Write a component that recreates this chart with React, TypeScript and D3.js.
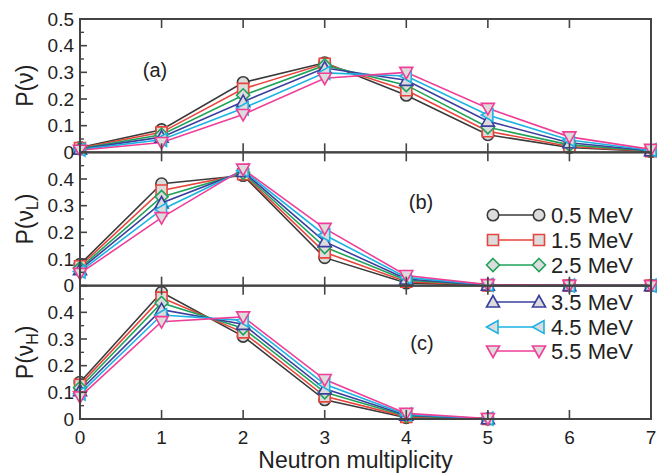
import React from "react";
import * as d3 from "d3";

const multiplicity = [0, 1, 2, 3, 4, 5, 6, 7];
const energies = ["0.5 MeV", "1.5 MeV", "2.5 MeV", "3.5 MeV", "4.5 MeV", "5.5 MeV"];
const colors = ["#3a3a3a", "#e8453c", "#1fa35a", "#3a3f9e", "#1cb3e3", "#ef3e96"];
const markerKinds = ["circle", "square", "diamond", "triUp", "triLeft", "triDown"];

// Panel (a): P(nu)
const pNu05 = [0.018, 0.085, 0.262, 0.336, 0.214, 0.066, 0.018, 0.003];
const pNu15 = [0.016, 0.075, 0.238, 0.332, 0.233, 0.079, 0.022, 0.004];
const pNu25 = [0.014, 0.066, 0.214, 0.326, 0.252, 0.094, 0.028, 0.005];
const pNu35 = [0.012, 0.057, 0.19, 0.316, 0.27, 0.117, 0.036, 0.006];
const pNu45 = [0.01, 0.047, 0.165, 0.298, 0.286, 0.14, 0.046, 0.008];
const pNu55 = [0.008, 0.037, 0.142, 0.278, 0.3, 0.165, 0.058, 0.011];

// Panel (b): P(nu_L)
const pNuL05 = [0.08, 0.382, 0.413, 0.105, 0.01, 0.001, 0, 0];
const pNuL15 = [0.073, 0.357, 0.418, 0.125, 0.015, 0.001, 0, 0];
const pNuL25 = [0.066, 0.333, 0.423, 0.145, 0.02, 0.002, 0, 0];
const pNuL35 = [0.06, 0.31, 0.428, 0.165, 0.025, 0.002, 0, 0];
const pNuL45 = [0.053, 0.285, 0.432, 0.19, 0.031, 0.003, 0, 0];
const pNuL55 = [0.046, 0.255, 0.437, 0.215, 0.038, 0.004, 0.001, 0];

// Panel (c): P(nu_H)
const pNuH05 = [0.138, 0.475, 0.31, 0.072, 0.005, 0];
const pNuH15 = [0.128, 0.455, 0.325, 0.085, 0.008, 0];
const pNuH25 = [0.117, 0.435, 0.34, 0.1, 0.011, 0.001];
const pNuH35 = [0.106, 0.41, 0.355, 0.113, 0.014, 0.001];
const pNuH45 = [0.095, 0.39, 0.37, 0.13, 0.017, 0.001];
const pNuH55 = [0.083, 0.365, 0.383, 0.148, 0.021, 0.002];

const yTicksA = [0, 0.1, 0.2, 0.3, 0.4, 0.5];
const yTicksBC = [0, 0.1, 0.2, 0.3, 0.4];
const yMinor = [0.05, 0.15, 0.25, 0.35, 0.45];

const panels = [
  { series: [pNu05, pNu15, pNu25, pNu35, pNu45, pNu55], ticks: yTicksA, label: "(a)", sub: "", lx: 155, ly: 70 },
  { series: [pNuL05, pNuL15, pNuL25, pNuL35, pNuL45, pNuL55], ticks: yTicksBC, label: "(b)", sub: "L", lx: 421, ly: 202 },
  { series: [pNuH05, pNuH15, pNuH25, pNuH35, pNuH45, pNuH55], ticks: yTicksBC, label: "(c)", sub: "H", lx: 422, ly: 343 },
];

const W = 657, H = 474;
const left = 80, right = 651, top = 19, bottom = 419;
const ph = (bottom - top) / 3;
const FONT = "'Liberation Sans', Arial, Helvetica, sans-serif";
const AXIS = "#444";
const TXT = "#222";
const MFILL = "#dcdcdc";

function markerPath(kind: string): string {
  switch (kind) {
    case "square": return "M-5.5,-5.5L5.5,-5.5L5.5,5.5L-5.5,5.5Z";
    case "diamond": return "M0,-6.5L6.5,0L0,6.5L-6.5,0Z";
    case "triUp": return "M0,-6.5L6.5,5L-6.5,5Z";
    case "triDown": return "M0,6.5L6.5,-5L-6.5,-5Z";
    case "triLeft": return "M-6.5,0L5,-6.5L5,6.5Z";
    default: return d3.symbol(d3.symbolCircle, Math.PI * 33)() as string;
  }
}

function Marker({ x, y, i }: { x: number; y: number; i: number }) {
  return (
    <path d={markerPath(markerKinds[i])} transform={`translate(${x},${y})`}
      fill={MFILL} stroke={colors[i]} strokeWidth={1.6} />
  );
}

export default function App() {
  const x = d3.scaleLinear().domain([0, 7]).range([left, right]);
  return (
    <svg width={W} height={H} style={{ position: "absolute", left: 0, top: 0, background: "#fff" }} fontFamily={FONT}>
      {panels.map((p, pi) => {
        const y0 = top + pi * ph;
        const y = d3.scaleLinear().domain([0, 0.5]).range([y0 + ph, y0]);
        const line = d3.line<number>().x((_, k) => x(multiplicity[k])).y((v) => y(v));
        return (
          <g key={pi}>
            {p.series.map((s, si) => (
              <path key={si} d={line(s) as string} fill="none" stroke={colors[si]} strokeWidth={1.6} />
            ))}
            {p.series.map((s, si) => (
              <g key={"m" + si}>
                {s.map((v, k) => <Marker key={k} x={x(multiplicity[k])} y={y(v)} i={si} />)}
              </g>
            ))}
            <rect x={left} y={y0} width={right - left} height={ph} fill="none" stroke={AXIS} strokeWidth={2} />
            {[0, 0.1, 0.2, 0.3, 0.4, 0.5].map((t) => (
              <line key={"yt" + t} x1={left} x2={left + 7} y1={y(t)} y2={y(t)} stroke={AXIS} strokeWidth={1.6} />
            ))}
            {yMinor.map((t) => (
              <line key={"ym" + t} x1={left} x2={left + 4} y1={y(t)} y2={y(t)} stroke={AXIS} strokeWidth={1.4} />
            ))}
            {p.ticks.map((t) => (
              <text key={"yl" + t} x={74} y={y(t)} textAnchor="end" dominantBaseline="central" fontSize={19} fill={TXT}>
                {t === 0 ? "0" : t.toFixed(1)}
              </text>
            ))}
            {multiplicity.slice(1, 7).map((m) => (
              <g key={"xt" + m}>
                <line x1={x(m)} x2={x(m)} y1={y0} y2={y0 + 9} stroke={AXIS} strokeWidth={1.6} />
                <line x1={x(m)} x2={x(m)} y1={y0 + ph} y2={y0 + ph - 9} stroke={AXIS} strokeWidth={1.6} />
              </g>
            ))}
            <text x={p.lx} y={p.ly} textAnchor="middle" dominantBaseline="central" fontSize={20} fill={TXT}>{p.label}</text>
            <text transform={`translate(33,${y0 + ph / 2}) rotate(-90)`} textAnchor="middle" fontSize={23} fill={TXT}>
              P(ν{p.sub ? <tspan dy={5} fontSize={16}>{p.sub}</tspan> : null}{p.sub ? <tspan dy={-5}>)</tspan> : ")"}
            </text>
          </g>
        );
      })}
      {multiplicity.map((m) => (
        <text key={"xl" + m} x={x(m)} y={437} textAnchor="middle" dominantBaseline="central" fontSize={19} fill={TXT}>{m}</text>
      ))}
      <text x={(left + right) / 2 - 10} y={468} textAnchor="middle" fontSize={23} fill={TXT}>Neutron multiplicity</text>
      {energies.map((e, i) => {
        const ly = [215, 240, 265, 302, 327, 351][i];
        return (
          <g key={"lg" + i}>
            <line x1={493} x2={539} y1={ly} y2={ly} stroke={colors[i]} strokeWidth={1.6} />
            <Marker x={493} y={ly} i={i} />
            <Marker x={539} y={ly} i={i} />
            <text x={551} y={ly} dominantBaseline="central" fontSize={22} fill={TXT}>{e}</text>
          </g>
        );
      })}
    </svg>
  );
}
